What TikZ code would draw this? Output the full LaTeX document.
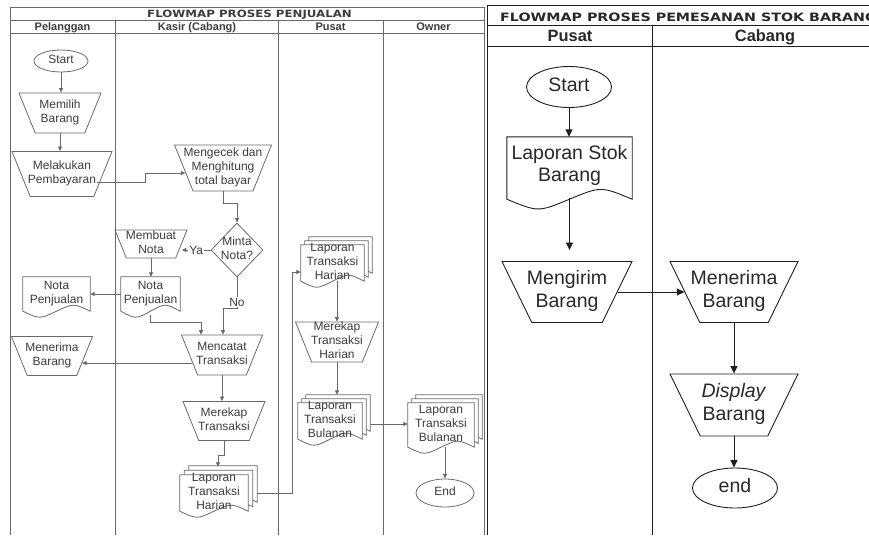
\documentclass[tikz,border=0pt]{standalone}
\usepackage{fontspec}
\usepackage{graphicx}
\setmainfont{Liberation Sans}
\newfontfamily\titlefont{DejaVu Sans}
\usetikzlibrary{shapes.geometric,arrows.meta,calc}
\pgfdeclarelayer{bg}
\pgfdeclarelayer{shp}
\pgfsetlayers{bg,shp,main}
\definecolor{lline}{RGB}{105,105,105}
\definecolor{ltext}{RGB}{60,60,60}
\definecolor{rline}{RGB}{30,30,30}
\definecolor{rtext}{RGB}{40,40,40}
\newcommand\mytxt[1]{\makebox[0pt]{\raisebox{-0.25em}[0pt][0pt]{\begin{tabular}{@{}c@{}}#1\end{tabular}}}}
% document outline: #1 style, #2 node, #3 wave amplitude, #4 offset (right and up)
\newcommand\docat[4]{%
  \filldraw[#1, fill=white] let \p1=(#2.north west), \p2=(#2.south east) in
  ({\x1+#4},{\y1+#4}) -- ({\x2+#4},{\y1+#4}) -- ({\x2+#4},{\y2+#4})
  .. controls ({\x2+#4-0.25*(\x2-\x1)},{\y2+#4+#3}) .. ({0.5*(\x1+\x2)+#4},{\y2+#4})
  .. controls ({\x1+#4+0.25*(\x2-\x1)},{\y2+#4-#3}) .. ({\x1+#4},{\y2+#4}) -- cycle;}
\newcommand\mdoc[4]{\docat{#1}{#2}{#3}{2*#4}\docat{#1}{#2}{#3}{#4}\docat{#1}{#2}{#3}{0pt}}
\tikzset{
  lfont/.style={font=\fontsize{12}{14}\selectfont, text=ltext},
  rfont/.style={font=\fontsize{19.5}{22.5}\selectfont, text=rtext},
  lframe/.style={draw=lline, line width=0.8pt},
  rframe/.style={draw=rline, line width=0.9pt},
  lln/.style={draw=lline, line width=0.8pt},
  rln/.style={draw=rline, line width=0.9pt},
  trapbase/.style 2 args={trapezium, trapezium stretches body, shape border rotate=180,
    minimum width=#1, minimum height=#2, inner sep=0pt,
    execute at begin node={\vrule width 0pt height \dimexpr #2pt/2\relax depth \dimexpr #2pt/2\relax}},
  ltrap/.style 2 args={trapbase={#1}{#2}, trapezium left angle=68, trapezium right angle=68, lln, lfont},
  rtrap/.style 2 args={trapbase={#1}{#2}, trapezium left angle=64, trapezium right angle=64, rln, rfont},
  lell/.style 2 args={ellipse, minimum width=#1, minimum height=#2, inner sep=0pt, lln, lfont},
  rell/.style 2 args={ellipse, minimum width=#1, minimum height=#2, inner sep=0pt, rln, rfont},
  ldia/.style 2 args={diamond, minimum width=#1, minimum height=#2, inner sep=0pt, lln, lfont},
  ldoc/.style 2 args={rectangle, minimum width=#1, minimum height=#2, inner sep=0pt, lfont},
  rdoc/.style 2 args={rectangle, minimum width=#1, minimum height=#2, inner sep=0pt, rfont},
  larr/.style={lln, -{Triangle[length=4.5pt,width=4pt]}},
  rarr/.style={rln, -{Triangle[length=7.5pt,width=7pt]}},
  lab/.style={fill=white, inner sep=1pt, lfont},
  lhead/.style={anchor=base, inner sep=0pt, text=ltext, font=\fontsize{11}{13}\selectfont\bfseries},
  rhead/.style={anchor=base, inner sep=0pt, text=rtext, font=\fontsize{16.4}{19}\selectfont\bfseries},
}
\begin{document}
\begin{tikzpicture}[x=1pt,y=-1pt]
\useasboundingbox (0,0) rectangle (869,535);
\begin{pgfonlayer}{bg}
  % left swimlanes
  \draw[lframe] (10,535) -- (10,7) -- (484,7) -- (484,535);
  \draw[lframe] (10,20) -- (484,20);
  \draw[lframe] (10,33) -- (484,33);
  \draw[lframe] (115,20) -- (115,535);
  \draw[lframe] (278,20) -- (278,535);
  \draw[lframe] (383,20) -- (383,535);
  % right swimlanes
  \draw[rframe] (869,5) -- (487,5) -- (487,535);
  \draw[rframe] (487,25) -- (869,25);
  \draw[rframe] (487,46) -- (869,46);
  \draw[rframe] (652,25) -- (652,535);
\end{pgfonlayer}

% titles and headers
\node[anchor=base west, inner sep=0pt, text=ltext] (ltitle) at (147,17.5)
  {\titlefont\fontsize{10}{12}\selectfont\bfseries\scalebox{1.18}[1]{FLOWMAP PROSES PENJUALAN}};
\node[lhead] (hpel) at (62.5,31) {Pelanggan};
\node[lhead] (hkas) at (197,31) {Kasir (Cabang)};
\node[lhead] (hpus) at (330.5,31) {Pusat};
\node[lhead] (hown) at (433.5,31) {Owner};
\node[anchor=base west, inner sep=0pt, text=rtext] (rtitle) at (500,21.7)
  {\titlefont\fontsize{11.5}{13}\selectfont\bfseries\scalebox{1.24}[1]{FLOWMAP PROSES PEMESANAN STOK BARANG}};
\node[rhead] (hpus2) at (570,41.5) {Pusat};
\node[rhead] (hcab2) at (765,41.5) {Cabang};

% left nodes
\node[lell={54}{22}] (start) at (61,61) {\mytxt{Start}};
\node[ltrap={82}{40}] (memilih) at (60,113) {\mytxt{Memilih\\Barang}};
\node[ltrap={100}{45}] (bayar) at (62,174) {\mytxt{Melakukan\\Pembayaran}};
\node[ltrap={97}{46}] (cek) at (223,168) {\mytxt{Mengecek dan\\Menghitung\\total bayar}};
\node[ldia={52}{54}] (minta) at (237,250) {\mytxt{Minta\\Nota?}};
\node[ltrap={72}{28}] (buat) at (151,244) {\mytxt{Membuat\\Nota}};
\node[ldoc={59}{34}] (notaK) at (150.5,294) {\mytxt{Nota\\Penjualan}};
\node[ldoc={67}{34}] (notaP) at (56.5,294) {\mytxt{Nota\\Penjualan}};
\node[ltrap={81}{40}] (catat) at (222,355) {\mytxt{Mencatat\\Transaksi}};
\node[ltrap={81}{39}] (terimaP) at (52,356) {\mytxt{Menerima\\Barang}};
\node[ltrap={82}{39}] (rekap) at (224,421) {\mytxt{Merekap\\Transaksi}};
\node[ldoc={68}{36}] (lapK) at (214,493) {\mytxt{Laporan\\Transaksi\\Harian}};
\node[ldoc={63}{36}] (lapP1) at (332.5,263) {\mytxt{Laporan\\Transaksi\\Harian}};
\node[ltrap={83}{40}] (rekapH) at (337,342) {\mytxt{Merekap\\Transaksi\\Harian}};
\node[ldoc={64}{36}] (lapP2) at (330,421) {\mytxt{Laporan\\Transaksi\\Bulanan}};
\node[ldoc={66}{44}] (lapO) at (441,425) {\mytxt{Laporan\\Transaksi\\Bulanan}};
\node[lell={58}{28}] (endL) at (445,493) {\mytxt{End}};

% right nodes
\node[rell={85}{41}] (start2) at (569,87) {\mytxt{Start}};
\node[rdoc={125}{62}] (lapStok) at (569.5,168) {\raisebox{3pt}{\mytxt{Laporan Stok\\Barang}}};
\node[rtrap={130}{61}] (kirim) at (567,292) {\mytxt{Mengirim\\Barang}};
\node[rtrap={128}{61}] (terima2) at (734,292) {\mytxt{Menerima\\Barang}};
\node[rtrap={128}{62}] (disp) at (734,405) {\mytxt{\textit{Display}\\Barang}};
\node[rell={85}{40}] (end2) at (735,488) {\mytxt{end}};

% document outlines
\begin{pgfonlayer}{shp}
  \docat{lln}{notaK}{8pt}{0pt}
  \docat{lln}{notaP}{8pt}{0pt}
  \mdoc{lln}{lapK}{8pt}{4.5pt}
  \mdoc{lln}{lapP1}{8pt}{4pt}
  \mdoc{lln}{lapP2}{8pt}{4pt}
  \mdoc{lln}{lapO}{8pt}{4pt}
  \docat{rln}{lapStok}{13pt}{0pt}
\end{pgfonlayer}

% left connectors
\draw[larr] (start.south) -- (start.south |- memilih.north);
\draw[larr] (memilih.south) -- (memilih.south |- bayar.north);
\draw[larr] ($(bayar.east)+(-6,8)$) -- ++(48,0) |- ($(cek.west)+(2,5)$);
\draw[larr] (cek.south) -- ++(0,12) -| (minta.north);
\draw[larr] (minta.west) -- node[lab]{Ya} (minta.west -| buat.east);
\draw[larr] (buat.south) -- (buat.south |- notaK.north);
\draw[larr] (notaK.west) -- (notaK.west -| notaP.east);
\draw[larr] ($(notaK.south)+(0,4)$) -- ++(0,7) -| ($(catat.north)+(-21,0)$);
\draw[larr] (minta.south) -- node[lab,pos=0.8]{No} ++(0,31) -| ($(catat.north)+(1,0)$);
\draw[larr] ($(catat.west)+(3,8)$) -- ($(terimaP.east)+(-3,7)$);
\draw[larr] (catat.south) -- (catat.south |- rekap.north);
\draw[larr] (rekap.south) -- ++(0,14) -| ($(lapK.north)+(4,-8)$);
\draw[larr] ($(lapK.east)+(9,0)$) -- ++(35,0) |- ($(lapP1.west)+(0,9)$);
\draw[larr] (rekapH.north |- lapP1.south) -- (rekapH.north);
\draw[larr] (rekapH.south) -- ($(rekapH.south |- lapP2.north)+(0,-8)$);
\draw[larr] ($(lapP2.east)+(8,3)$) -- ($(lapO.west)+(0,-1)$);
\draw[larr] (endL.north |- lapO.south) -- (endL.north);

% right connectors
\draw[rarr] (start2.south) -- (start2.south |- lapStok.north);
\draw[rarr] ($(lapStok.south)+(0,-1)$) -- ($(lapStok.south |- kirim.north)+(0,-11)$);
\draw[rarr] (kirim.east) -- (kirim.east -| terima2.west);
\draw[rarr] (terima2.south) -- (terima2.south |- disp.north);
\draw[rarr] (disp.south) -- (disp.south |- end2.north);
\end{tikzpicture}
\end{document}
